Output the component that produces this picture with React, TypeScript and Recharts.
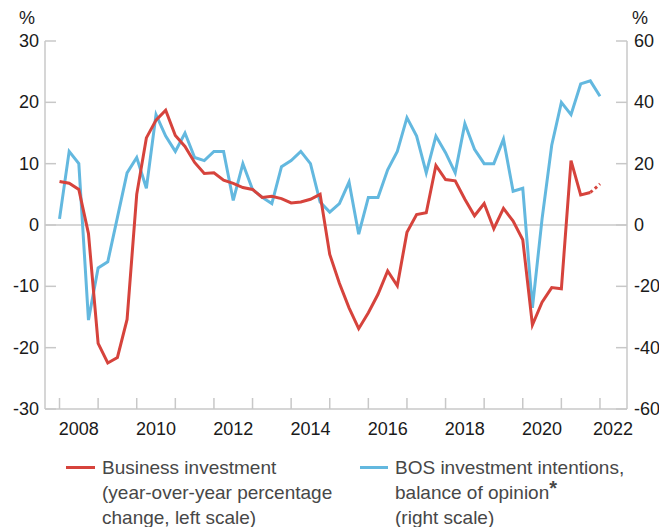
import React from "react";
import {
  LineChart,
  Line,
  XAxis,
  YAxis,
  ReferenceLine,
} from "recharts";

const RED = "#d6433c";
const BLUE = "#63b8df";
const AXIS = "#c8c8c8";
const FONT = "'Liberation Sans', Arial, Helvetica, sans-serif";

// quarters 2008Q1 .. 2022Q1
const years = [2008, 2009, 2010, 2011, 2012, 2013, 2014, 2015, 2016, 2017, 2018, 2019, 2020, 2021, 2022];
const yearLabels = [2008, 2010, 2012, 2014, 2016, 2018, 2020, 2022];
const leftTicks = [-30, -20, -10, 0, 10, 20, 30];
const rightTicks = [-60, -40, -20, 0, 20, 40, 60];

// business investment, y/y % change (left scale); last point is a projection
const investment = [
  7.1, 6.8, 5.8, -1.4, -19.3, -22.5, -21.6, -15.4, 5, 14.2, 17.1, 18.7, 14.6, 12.8, 10.2,
  8.4, 8.5, 7.3, 6.8, 6.1, 5.8, 4.5, 4.7, 4.3, 3.6, 3.75, 4.2, 5, -4.8, -9.5, -13.5, -16.9,
  -14.3, -11.3, -7.5, -9.9, -1.2, 1.7, 2, 9.7, 7.4, 7.2, 4.2, 1.5, 3.5, -0.6, 2.7, 0.65,
  -2.4, -16.3, -12.6, -10.2, -10.4, 10.5, 4.9, 5.3, 6.7,
];
const projectedFrom = 55;

// BOS investment intentions, balance of opinion (right scale)
const bos = [
  2, 24, 20, -31, -14, -12, 2.5, 17, 22, 12, 36, 29, 24, 30, 22, 21, 24, 24, 8, 20, 11.6,
  9, 7, 19, 21, 24, 20, 7.5, 4.2, 7, 14, -3, 9, 9, 18, 24, 35, 29, 17, 29, 23.6, 17, 33,
  24.7, 20, 20, 28, 11, 12, -27, 2, 26, 40, 36, 46, 47, 42,
];

const quarters = years.flatMap((y) => [y, y + 0.25, y + 0.5, y + 0.75]).slice(0, bos.length);

const data = quarters.map((t, i) => ({
  t,
  inv: i <= projectedFrom ? investment[i] : null,
  invProj: i >= projectedFrom ? investment[i] : null,
  bos: bos[i],
}));

const X_MIN = 2007.624;
const X_MAX = 2022.7;
const PLOT_LEFT = 45;
const PLOT_RIGHT = 627;
const PX_YEAR = (PLOT_RIGHT - PLOT_LEFT) / (X_MAX - X_MIN);

const XTick = (props: any) => {
  const { x, y, payload } = props;
  const axisY = y - 4;
  const year = payload.value;
  const lx = Math.min(x + PX_YEAR / 2, PLOT_RIGHT - 14);
  return (
    <g>
      <line x1={x} x2={x} y1={axisY} y2={axisY - 11} stroke={AXIS} strokeWidth={1.5} />
      {yearLabels.includes(year) && (
        <text x={lx} y={axisY + 26} textAnchor="middle" fontSize={18} fill="#1a1a1a" fontFamily={FONT}>
          {year}
        </text>
      )}
    </g>
  );
};

const LeftTick = (props: any) => {
  const { x, y, payload } = props;
  const axisX = x + 6;
  return (
    <g>
      <line x1={axisX} x2={axisX + 11} y1={y} y2={y} stroke={AXIS} strokeWidth={1.5} />
      <text x={x} y={y + 6} textAnchor="end" fontSize={18} fill="#1a1a1a" fontFamily={FONT}>
        {payload.value}
      </text>
    </g>
  );
};

const RightTick = (props: any) => {
  const { x, y, payload } = props;
  const axisX = x - 7;
  return (
    <g>
      <line x1={axisX} x2={axisX - 11} y1={y} y2={y} stroke={AXIS} strokeWidth={1.5} />
      <text x={x} y={y + 6} textAnchor="start" fontSize={18} fill="#1a1a1a" fontFamily={FONT}>
        {payload.value}
      </text>
    </g>
  );
};

const legendText: React.CSSProperties = {
  position: "absolute",
  top: 455,
  fontSize: 19,
  lineHeight: "25px",
  color: "#474747",
  fontFamily: FONT,
  whiteSpace: "nowrap",
};

export default function App() {
  return (
    <div style={{ position: "absolute", left: 0, top: 0, width: 659, height: 527, background: "#fff" }}>
      <div style={{ position: "absolute", left: 19, top: 8, fontSize: 18, fontFamily: FONT, color: "#1a1a1a" }}>%</div>
      <div style={{ position: "absolute", left: 632, top: 8, fontSize: 18, fontFamily: FONT, color: "#1a1a1a" }}>%</div>
      <LineChart width={659} height={527} data={data} margin={{ top: 41, right: 0, bottom: 88, left: 0 }}>
        <XAxis
          dataKey="t"
          type="number"
          domain={[X_MIN, X_MAX]}
          ticks={years}
          interval={0}
          height={30}
          tickSize={0}
          tickMargin={4}
          tickLine={false}
          axisLine={{ stroke: AXIS, strokeWidth: 1.5 }}
          tick={<XTick />}
        />
        <YAxis
          yAxisId="left"
          domain={[-30, 30]}
          ticks={leftTicks}
          interval={0}
          width={45}
          tickSize={0}
          tickMargin={6}
          tickLine={false}
          axisLine={{ stroke: AXIS, strokeWidth: 1.5 }}
          tick={<LeftTick />}
        />
        <YAxis
          yAxisId="right"
          orientation="right"
          domain={[-60, 60]}
          ticks={rightTicks}
          interval={0}
          width={32}
          tickSize={0}
          tickMargin={7}
          tickLine={false}
          axisLine={{ stroke: AXIS, strokeWidth: 1.5 }}
          tick={<RightTick />}
        />
        <ReferenceLine yAxisId="left" y={0} stroke={AXIS} strokeWidth={1.5} />
        <Line yAxisId="right" type="linear" dataKey="bos" stroke={BLUE} strokeWidth={3} dot={false} isAnimationActive={false} />
        <Line yAxisId="left" type="linear" dataKey="inv" stroke={RED} strokeWidth={3} dot={false} isAnimationActive={false} />
        <Line yAxisId="left" type="linear" dataKey="invProj" stroke={RED} strokeWidth={3} strokeDasharray="3 3" dot={false} isAnimationActive={false} />
      </LineChart>
      <div style={{ position: "absolute", left: 66, top: 466, width: 29, height: 3, background: RED }} />
      <div style={{ ...legendText, left: 102 }}>
        Business investment
        <br />
        (year-over-year percentage
        <br />
        change, left scale)
      </div>
      <div style={{ position: "absolute", left: 360, top: 466, width: 28, height: 3, background: BLUE }} />
      <div style={{ ...legendText, left: 395 }}>
        BOS investment intentions,
        <br />
        balance of opinion
        <span style={{ fontSize: 20, fontWeight: "bold", verticalAlign: "top", lineHeight: "16px" }}>*</span>
        <br />
        (right scale)
      </div>
    </div>
  );
}
